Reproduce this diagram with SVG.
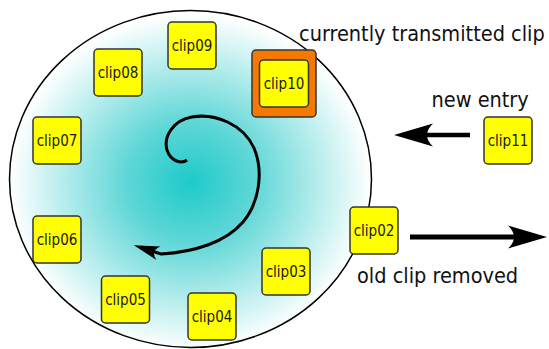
<svg xmlns="http://www.w3.org/2000/svg" width="549" height="349" viewBox="0 0 549 349">
  <style>
    .clip { fill: #ffff00; stroke: #333333; stroke-width: 1.5; }
    .cur { fill: #f57900; stroke: #333333; stroke-width: 1.5; }
    .ct { font-family: "DejaVu Sans Condensed", "DejaVu Sans", sans-serif; font-size: 15px; fill: #1a1a1a; text-anchor: middle; }
    .big { font-family: "DejaVu Sans Condensed", "DejaVu Sans", sans-serif; font-size: 21.5px; fill: #111111; }
    .conn { fill: none; stroke: #000000; stroke-linecap: butt; }
  </style>
  <defs>
    <radialGradient id="bufGrad" cx="0.5" cy="0.51" r="0.5">
      <stop offset="0" stop-color="#1ecaca"/>
      <stop offset="0.35" stop-color="#5ed6d6"/>
      <stop offset="1" stop-color="#ffffff"/>
    </radialGradient>
    <marker id="bigHead" markerUnits="userSpaceOnUse" viewBox="-42 -14 44 28" markerWidth="44" markerHeight="28" refX="-30" refY="0" orient="auto">
      <path d="M0,0 L-39,-11.5 Q-27,0 -39,11.5 Z" fill="#000000"/>
    </marker>
    <marker id="spiralHead" markerUnits="userSpaceOnUse" viewBox="-30 -10 32 20" markerWidth="32" markerHeight="20" refX="-17" refY="0" orient="auto">
      <path d="M0,0 L-26,-7 Q-17,0 -26,7 Z" fill="#000000"/>
    </marker>
  </defs>

  <g id="buffer">
    <ellipse cx="190.5" cy="179" rx="181" ry="168.5" fill="url(#bufGrad)" stroke="#000000" stroke-width="1.5"/>
  </g>

  <g id="connectors">
    <path id="rotation" class="conn" stroke-width="3" d="M187,160 C182,164 171,162 167,150 C163,136 174,120 192,117 C215,113 243,124 254,148 C264,172 259,203 243,222 C226,242 195,252 161,254 L150,250.5" marker-end="url(#spiralHead)"/>
    <path id="entry-arrow" class="conn" stroke-width="4.5" d="M470,135 L424,135" marker-end="url(#bigHead)"/>
    <path id="remove-arrow" class="conn" stroke-width="5" d="M410,237 L517,237" marker-end="url(#bigHead)"/>
  </g>

  <g id="clip09"><rect class="clip" x="168" y="22" width="48" height="47" rx="4"/><text class="ct" x="192" y="50.5">clip09</text></g>
  <g id="clip08"><rect class="clip" x="94" y="49" width="48" height="47" rx="4"/><text class="ct" x="118" y="77.5">clip08</text></g>
  <g id="clip07"><rect class="clip" x="33" y="117" width="48" height="47" rx="4"/><text class="ct" x="57" y="145.5">clip07</text></g>
  <g id="clip06"><rect class="clip" x="33" y="216" width="48" height="47" rx="4"/><text class="ct" x="57" y="244.5">clip06</text></g>
  <g id="clip05"><rect class="clip" x="101.5" y="276" width="48" height="47" rx="4"/><text class="ct" x="125.5" y="304.5">clip05</text></g>
  <g id="clip04"><rect class="clip" x="188" y="293" width="48" height="47" rx="4"/><text class="ct" x="212" y="321.5">clip04</text></g>
  <g id="clip03"><rect class="clip" x="262" y="248" width="48" height="47" rx="4"/><text class="ct" x="286" y="276.5">clip03</text></g>
  <g id="clip02"><rect class="clip" x="350" y="207" width="48" height="47" rx="4"/><text class="ct" x="374" y="235.5">clip02</text></g>
  <g id="clip10">
    <rect class="cur" x="252" y="50" width="64" height="67" rx="4"/>
    <rect class="clip" x="259.5" y="60" width="49" height="47" rx="4"/>
    <text class="ct" x="284" y="88.5">clip10</text>
  </g>
  <g id="clip11"><rect class="clip" x="484" y="117" width="48" height="47" rx="4"/><text class="ct" x="508" y="145.5">clip11</text></g>

  <g id="labels">
    <text class="big" x="299" y="41">currently transmitted clip</text>
    <text class="big" x="431.5" y="107">new entry</text>
    <text class="big" x="357" y="282.5">old clip removed</text>
  </g>
</svg>
